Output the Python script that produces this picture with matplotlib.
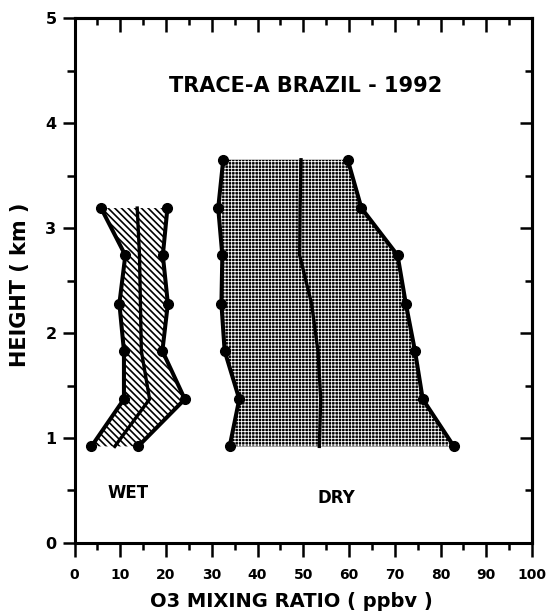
import matplotlib
matplotlib.use("Agg")
import matplotlib.pyplot as plt
from matplotlib.ticker import MultipleLocator

# heights (km), bottom to top
wet_height = [0.92, 1.37, 1.83, 2.28, 2.74, 3.19]
wet_low = [3.7, 10.8, 10.8, 9.8, 11.1, 5.8]
wet_mean = [8.8, 16.4, 14.6, 14.4, 14.2, 13.7]
wet_high = [13.9, 24.1, 19.2, 20.4, 19.3, 20.3]

dry_height = [0.92, 1.37, 1.83, 2.28, 2.74, 3.19, 3.65]
dry_low = [33.9, 36.0, 32.8, 32.1, 32.3, 31.4, 32.5]
dry_mean = [53.5, 53.8, 53.2, 51.8, 49.2, 49.3, 49.5]
dry_high = [82.9, 76.1, 74.4, 72.4, 70.6, 62.7, 59.7]

plt.rcParams['font.family'] = ['DejaVu Sans']
plt.rcParams['font.weight'] = 'bold'

fig = plt.figure(figsize=(5.48, 6.11), dpi=100)
ax = fig.add_axes([0.136, 0.1113, 0.835, 0.8592])

# shaded ranges (hatch line width differs between the two)
with plt.rc_context({'hatch.linewidth': 1.2}):
    wet_fill = ax.fill_betweenx(wet_height, wet_low, wet_high, facecolor='white',
                                edgecolor='black', hatch='\\' * 5, linewidth=0, zorder=1)
    if hasattr(wet_fill, 'set_hatch_linewidth'):
        wet_fill.set_hatch_linewidth(1.2)
with plt.rc_context({'hatch.linewidth': 0.6}):
    dry_fill = ax.fill_betweenx(dry_height, dry_low, dry_high, facecolor='black',
                                edgecolor='white', hatch='+' * 5, linewidth=0, zorder=1)
    if hasattr(dry_fill, 'set_hatch_linewidth'):
        dry_fill.set_hatch_linewidth(0.6)

for lo, hi, mid, h in [(wet_low, wet_high, wet_mean, wet_height),
                       (dry_low, dry_high, dry_mean, dry_height)]:
    ax.plot(lo, h, color='black', lw=2.9, marker='o', ms=7, zorder=3)
    ax.plot(hi, h, color='black', lw=2.9, marker='o', ms=7, zorder=3)
    ax.plot(mid, h, color='black', lw=2.4, zorder=3)

ax.set_xlim(0, 100)
ax.set_ylim(0, 5)

ax.text(50.5, 4.35, 'TRACE-A BRAZIL - 1992', fontsize=15, fontweight='bold',
        ha='center', va='center')
ax.text(11.6, 0.48, 'WET', fontsize=12, fontweight='bold', ha='center', va='center')
ax.text(57.3, 0.43, 'DRY', fontsize=12, fontweight='bold', ha='center', va='center')

for s in ax.spines.values():
    s.set_linewidth(2.2)

ax.xaxis.set_major_locator(MultipleLocator(10))
ax.xaxis.set_minor_locator(MultipleLocator(5))
ax.yaxis.set_major_locator(MultipleLocator(1))
ax.yaxis.set_minor_locator(MultipleLocator(0.5))

ax.tick_params(axis='x', which='major', direction='out', length=10, width=1.8,
               pad=8, labelsize=10, top=False)
ax.tick_params(axis='x', which='minor', direction='out', length=5, width=1.8, top=False)
ax.tick_params(axis='y', which='major', direction='out', length=9, width=1.8,
               pad=4, labelsize=11.5, right=False)
ax.tick_params(axis='y', which='minor', direction='out', length=5.5, width=1.8, right=False)

# inward ticks on top and right
top = ax.secondary_xaxis('top')
top.xaxis.set_major_locator(MultipleLocator(10))
top.xaxis.set_minor_locator(MultipleLocator(5))
top.tick_params(which='major', direction='in', length=10, width=1.8, labeltop=False)
top.tick_params(which='minor', direction='in', length=5, width=1.8)
top.spines['top'].set_linewidth(2.2)

right = ax.secondary_yaxis('right')
right.yaxis.set_major_locator(MultipleLocator(1))
right.yaxis.set_minor_locator(MultipleLocator(0.5))
right.tick_params(which='major', direction='in', length=9, width=1.8, labelright=False)
right.tick_params(which='minor', direction='in', length=5, width=1.8)
right.spines['right'].set_linewidth(2.2)

ax.set_xlabel('O3 MIXING RATIO ( ppbv )', fontsize=14, fontweight='bold')
ax.set_ylabel('HEIGHT ( km )', fontsize=15, fontweight='bold')
ax.xaxis.set_label_coords(0.473, -0.093)
ax.yaxis.set_label_coords(-0.097, 0.491)

fig.savefig('out.png', dpi=100)
